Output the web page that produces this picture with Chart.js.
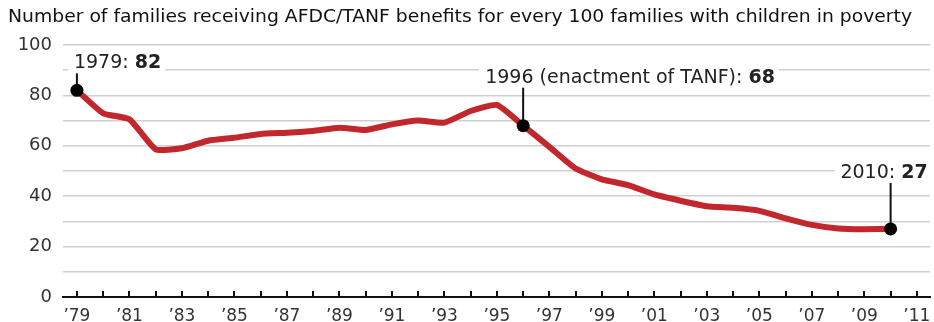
<!DOCTYPE html>
<html lang="en">
<head>
    <meta charset="UTF-8">
    <title>AFDC/TANF families per 100 families in poverty</title>
    <script src="https://cdn.jsdelivr.net/npm/chart.js"></script>
    <style>
        body { margin: 0; background: #fff; }
        #wrap { width: 934px; height: 322px; }
    </style>
</head>
<body>
    <div id="wrap"><canvas id="tanfChart" width="934" height="322"></canvas></div>

    <script>
        const chartTitle = 'Number of families receiving AFDC/TANF benefits for every 100 families with children in poverty';
        const years = [1979, 1980, 1981, 1982, 1983, 1984, 1985, 1986, 1987, 1988, 1989,
                       1990, 1991, 1992, 1993, 1994, 1995, 1996, 1997, 1998, 1999, 2000,
                       2001, 2002, 2003, 2004, 2005, 2006, 2007, 2008, 2009, 2010];
        const families = [82, 72.9, 70.5, 58.6, 59, 62, 63.2, 64.7, 65.2, 65.9, 67.2,
                          66.3, 68.5, 70, 69.2, 73.8, 76.2, 68, 59.6, 51, 46.7, 44.4,
                          40.7, 38.2, 36, 35.4, 34.2, 31.2, 28.6, 27.2, 26.9, 27];
        const tickYears = [1979, 1980, 1981, 1982, 1983, 1984, 1985, 1986, 1987, 1988, 1989,
                           1990, 1991, 1992, 1993, 1994, 1995, 1996, 1997, 1998, 1999, 2000,
                           2001, 2002, 2003, 2004, 2005, 2006, 2007, 2008, 2009, 2010, 2011];
        const yTicks = [0, 20, 40, 60, 80, 100];

        // callouts: year, regular text, bold text
        const callouts = [
            { year: 1979, text: '1979: ', bold: '82' },
            { year: 1996, text: '1996 (enactment of TANF): ', bold: '68' },
            { year: 2010, text: '2010: ', bold: '27' }
        ];
        // label placement relative to the marked point
        const calloutPos = {
            1979: { dx: -3, dy: -27, align: 'left' },
            1996: { dx: -38, dy: -48, align: 'left' },
            2010: { dx: 37, dy: -56, align: 'right' }
        };

        const red = '#c1272d';
        const textFont = '"DejaVu Sans", "Noto Sans", sans-serif';

        const points = years.map((y, i) => ({ x: y, y: families[i] }));

        const extras = {
            id: 'extras',
            afterDraw(chart) {
                const c = chart.ctx;
                const xs = chart.scales.x, ys = chart.scales.y;
                const bottom = chart.chartArea.bottom;

                // title
                c.save();
                c.fillStyle = '#111';
                c.font = '18px "DejaVu Sans Condensed", "Liberation Sans Narrow", sans-serif';
                c.textBaseline = 'middle';
                const tw = c.measureText(chartTitle).width;
                c.translate(8, 17);
                c.scale(904 / tw, 1);
                c.fillText(chartTitle, 0, 0);
                c.restore();

                // upward tick marks on the baseline
                c.save();
                c.strokeStyle = '#111';
                c.lineWidth = 2;
                tickYears.forEach(t => {
                    const px = Math.round(xs.getPixelForValue(t));
                    c.beginPath();
                    c.moveTo(px, bottom - 6);
                    c.lineTo(px, bottom);
                    c.stroke();
                });
                c.restore();

                // callouts
                callouts.forEach(co => {
                    const i = years.indexOf(co.year);
                    const px = xs.getPixelForValue(co.year);
                    const py = ys.getPixelForValue(families[i]);
                    const pos = calloutPos[co.year];
                    c.save();
                    c.textBaseline = 'middle';
                    c.font = '19px ' + textFont;
                    const w1 = c.measureText(co.text).width;
                    c.font = 'bold 19px ' + textFont;
                    const w2 = c.measureText(co.bold).width;
                    const total = w1 + w2;
                    let lx = px + pos.dx;
                    if (pos.align === 'right') lx -= total;
                    const ly = py + pos.dy;
                    c.fillStyle = '#fff';
                    c.fillRect(lx - 6, ly - 11, total + 10, 22);
                    // leader line
                    c.strokeStyle = '#111';
                    c.lineWidth = 2;
                    c.beginPath();
                    c.moveTo(px, py);
                    c.lineTo(px, ly + 10);
                    c.stroke();
                    c.fillStyle = '#222';
                    c.font = '19px ' + textFont;
                    c.fillText(co.text, lx, ly);
                    c.font = 'bold 19px ' + textFont;
                    c.fillText(co.bold, lx + w1, ly);
                    // marker
                    c.fillStyle = '#000';
                    c.beginPath();
                    c.arc(px, py, 6.5, 0, Math.PI * 2);
                    c.fill();
                    c.restore();
                });
            }
        };

        new Chart(document.getElementById('tanfChart'), {
            type: 'line',
            data: {
                datasets: [{
                    data: points,
                    borderColor: red,
                    borderWidth: 6,
                    tension: 0.15,
                    borderJoinStyle: 'round',
                    borderCapStyle: 'round',
                    pointRadius: 0,
                    fill: false
                }]
            },
            options: {
                responsive: false,
                animation: false,
                events: [],
                layout: { padding: { top: 45, right: 4, left: 0, bottom: 0 } },
                plugins: { legend: { display: false }, tooltip: { enabled: false } },
                scales: {
                    x: {
                        type: 'linear',
                        min: 1978.47,
                        max: 2011.5,
                        afterBuildTicks: s => { s.ticks = tickYears.map(v => ({ value: v })); },
                        afterFit: s => { s.height = 25; },
                        grid: { display: false },
                        border: { display: true, color: '#111', width: 2 },
                        ticks: {
                            autoSkip: false,
                            maxRotation: 0,
                            padding: 1,
                            color: '#333',
                            font: { family: textFont, size: 17 },
                            callback: v => (v % 2 === 1 ? '\u2019' + String(v).slice(2) : '')
                        }
                    },
                    y: {
                        min: 0,
                        max: 100,
                        afterBuildTicks: s => {
                            const t = [];
                            for (let v = 0; v <= 100; v += 10) t.push({ value: v });
                            s.ticks = t;
                        },
                        afterFit: s => { s.width = 63; },
                        grid: { color: '#d0d0d0', lineWidth: 1.5, drawTicks: false },
                        border: { display: false },
                        ticks: {
                            padding: 11,
                            color: '#333',
                            font: { family: textFont, size: 18 },
                            callback: v => (yTicks.includes(v) ? String(v) : '')
                        }
                    }
                }
            },
            plugins: [extras]
        });
    </script>
</body>
</html>
